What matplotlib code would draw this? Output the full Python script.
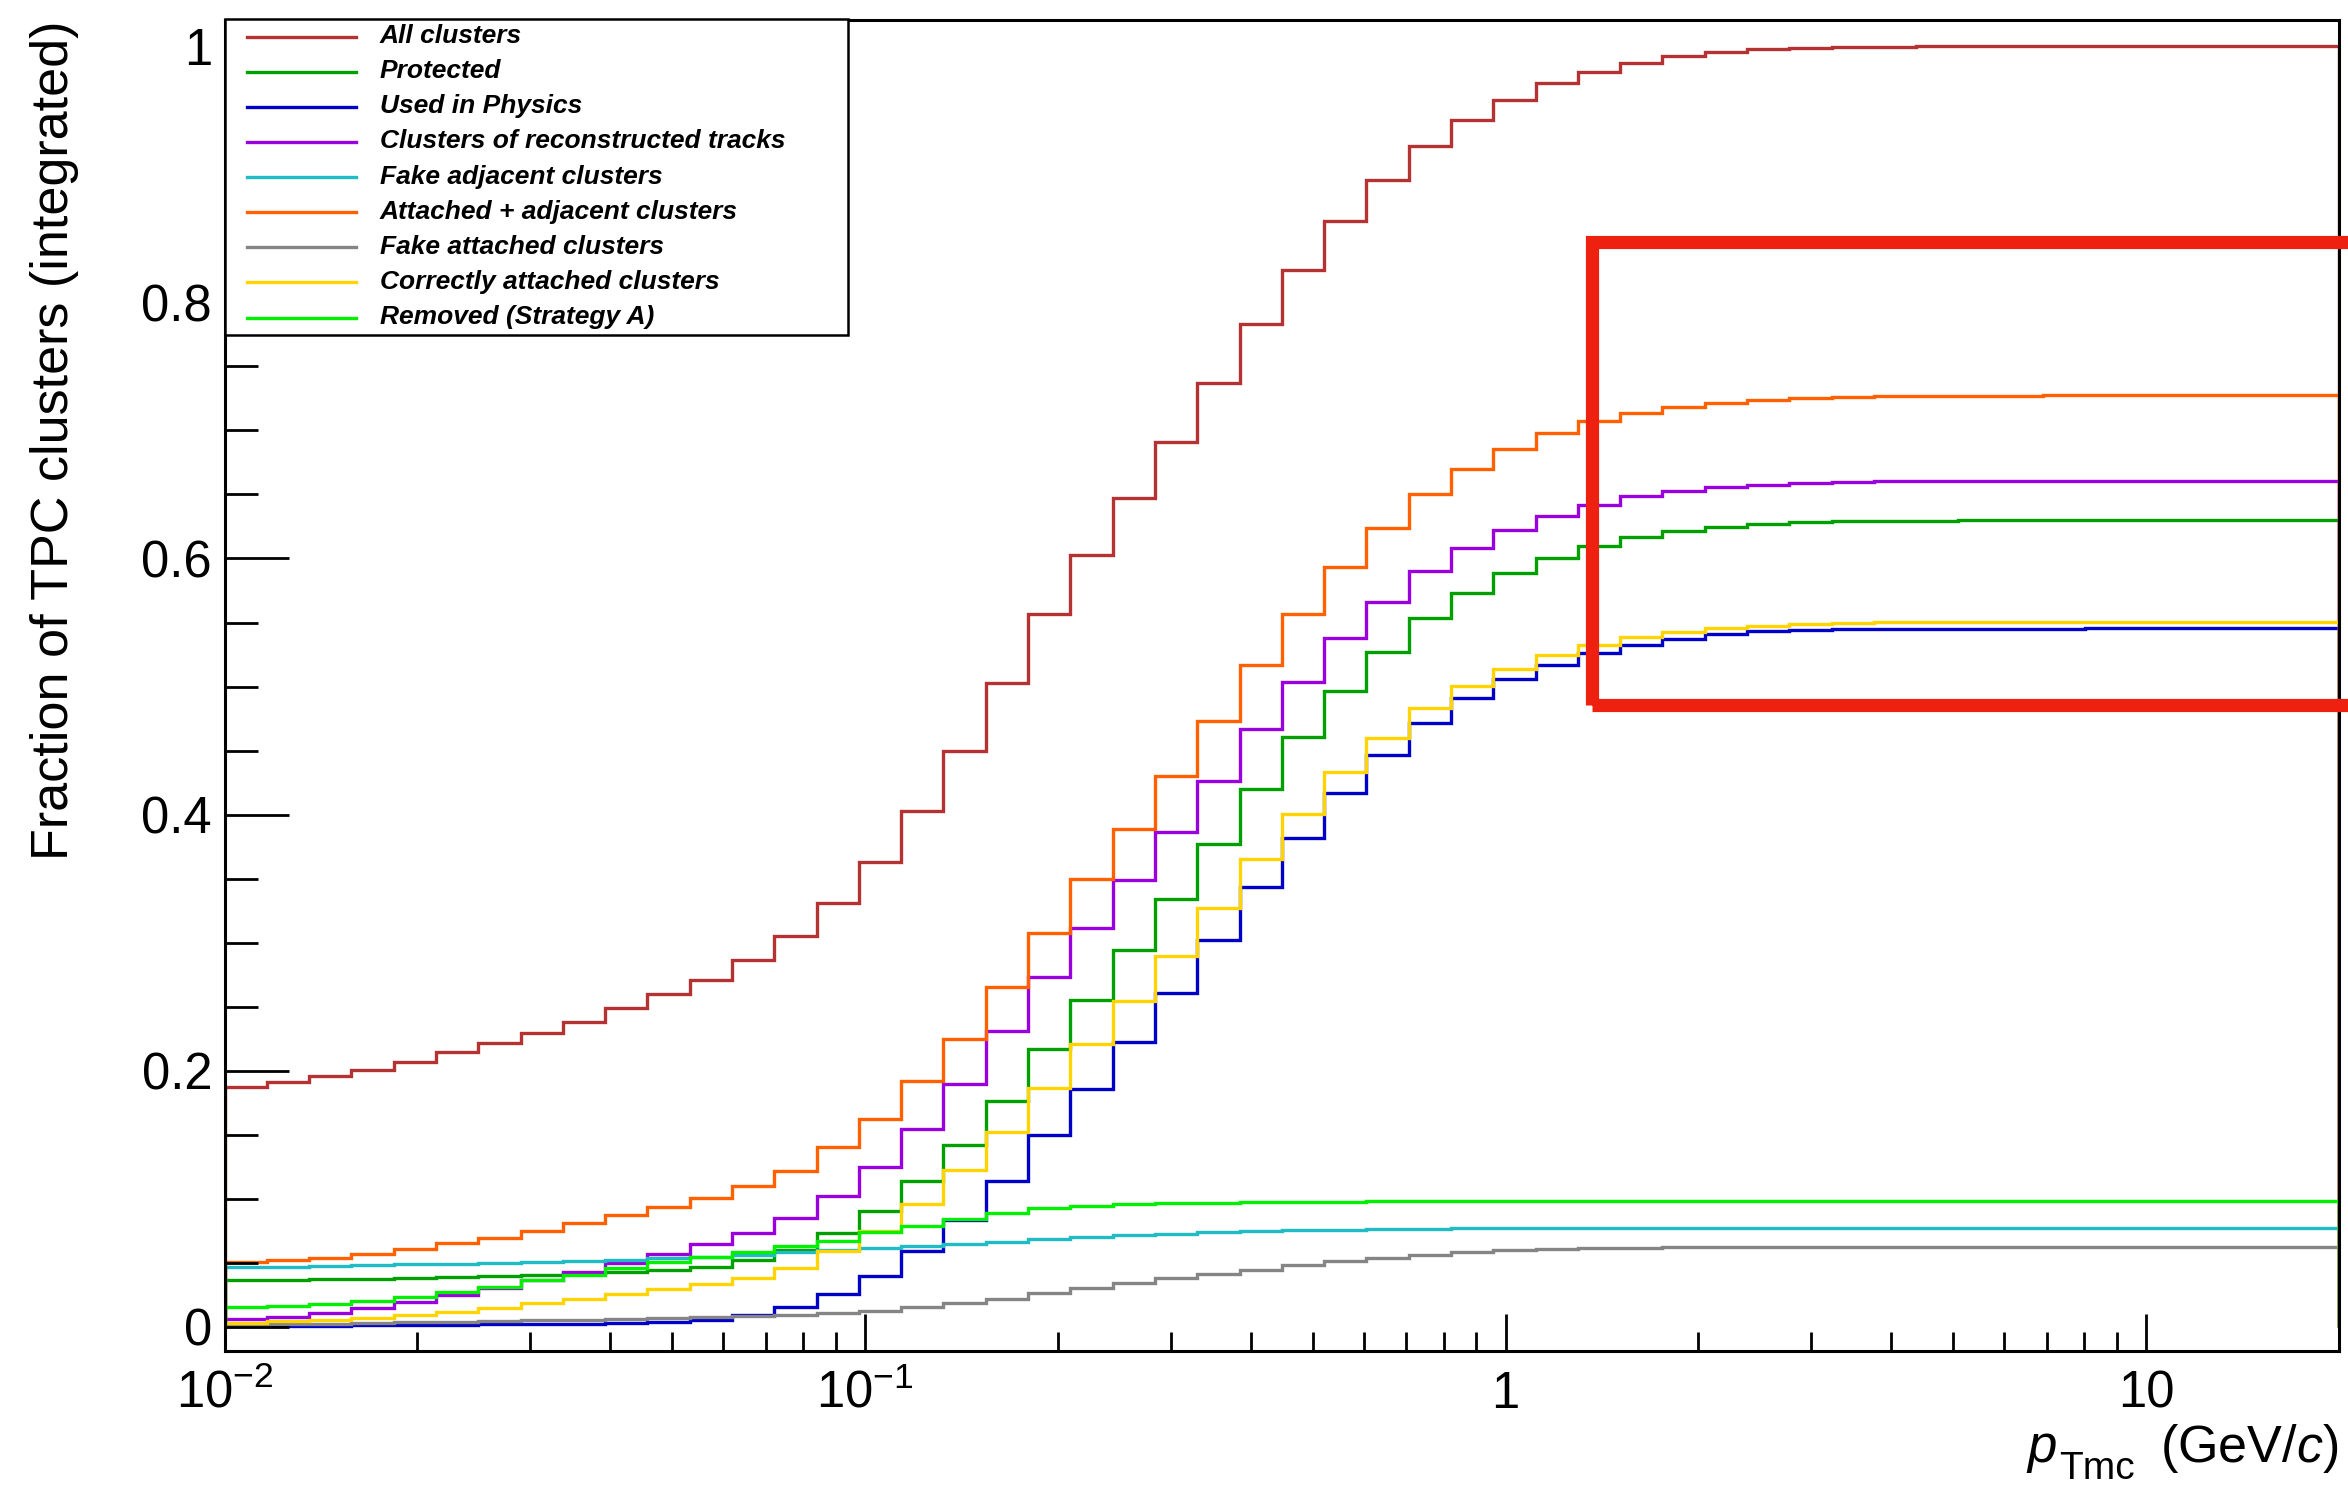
import numpy as np
import matplotlib
matplotlib.use('Agg')
import matplotlib.pyplot as plt
from matplotlib.patches import Rectangle
from matplotlib.lines import Line2D

plt.rcParams['font.family'] = ['Liberation Sans', 'DejaVu Sans']
plt.rcParams['mathtext.fontset'] = 'custom'
plt.rcParams['mathtext.rm'] = 'Liberation Sans'
plt.rcParams['mathtext.it'] = 'Liberation Sans:italic'
plt.rcParams['mathtext.bf'] = 'Liberation Sans:bold'

# 50 log bins from 0.01 to 20 GeV/c (cumulative fractions)
bin_edges = np.logspace(-2, np.log10(20.0), 51)

all_clusters = [0.187, 0.191, 0.196, 0.2005, 0.207, 0.2143, 0.2218, 0.2296, 0.2382, 0.2489,
                0.2596, 0.271, 0.2862, 0.3052, 0.3312, 0.3627, 0.403, 0.450, 0.503, 0.557,
                0.603, 0.647, 0.691, 0.7373, 0.7832, 0.8254, 0.8636, 0.8954, 0.9222, 0.9425,
                0.9581, 0.9712, 0.9802, 0.9873, 0.9927, 0.9954, 0.9977, 0.999, 0.9995, 0.9998,
                1.0, 1.0, 1.0, 1.0, 1.0, 1.0, 1.0, 1.0, 1.0, 1.0]
protected = [0.0365, 0.0368, 0.037, 0.0375, 0.038, 0.0386, 0.0393, 0.0401, 0.0417, 0.0425,
             0.044, 0.0469, 0.0523, 0.0599, 0.0733, 0.090, 0.114, 0.1418, 0.176, 0.2168,
             0.2554, 0.2939, 0.3342, 0.377, 0.4202, 0.4602, 0.4968, 0.5271, 0.5533, 0.5731,
             0.5885, 0.6004, 0.6101, 0.6167, 0.6214, 0.6246, 0.627, 0.6283, 0.629, 0.6294,
             0.6296, 0.6297, 0.6298, 0.6298, 0.6299, 0.6299, 0.63, 0.63, 0.63, 0.63]
used_physics = [0.0005, 0.0006, 0.0008, 0.001, 0.0012, 0.0016, 0.0018, 0.0021, 0.0024, 0.0029,
                0.0037, 0.0052, 0.0089, 0.0154, 0.0254, 0.0395, 0.0591, 0.0836, 0.1136, 0.150,
                0.186, 0.222, 0.261, 0.302, 0.3433, 0.3818, 0.4166, 0.4462, 0.4717, 0.4909,
                0.5055, 0.517, 0.5264, 0.5324, 0.5373, 0.541, 0.5431, 0.5444, 0.545, 0.5452,
                0.5452, 0.5453, 0.5453, 0.5453, 0.5454, 0.5454, 0.5454, 0.5454, 0.5454, 0.5454]
reco_tracks = [0.0058, 0.0078, 0.011, 0.0149, 0.0193, 0.0248, 0.0302, 0.0362, 0.0427, 0.050,
               0.0568, 0.0643, 0.0729, 0.0846, 0.1024, 0.125, 0.1547, 0.1898, 0.2306, 0.273,
               0.3115, 0.3488, 0.386, 0.4263, 0.4665, 0.5038, 0.5376, 0.5662, 0.590, 0.6084,
               0.6224, 0.6335, 0.6416, 0.6486, 0.6526, 0.6556, 0.6577, 0.659, 0.6598, 0.6603,
               0.6604, 0.6605, 0.6605, 0.6606, 0.6606, 0.6606, 0.6606, 0.6606, 0.6606, 0.6606]
fake_adjacent = [0.0464, 0.0469, 0.0474, 0.048, 0.0486, 0.0492, 0.0498, 0.0505, 0.0513, 0.0523,
                 0.0534, 0.0547, 0.0562, 0.058, 0.0599, 0.0617, 0.0628, 0.0647, 0.0664, 0.0686,
                 0.0703, 0.0716, 0.0727, 0.0737, 0.0745, 0.0753, 0.0758, 0.0763, 0.0766, 0.0768,
                 0.0771, 0.0772, 0.0773, 0.0773, 0.0773, 0.0773, 0.0773, 0.0773, 0.0773, 0.0773,
                 0.0773, 0.0773, 0.0773, 0.0773, 0.0773, 0.0773, 0.0773, 0.0773, 0.0773, 0.0773]
attached_adjacent = [0.0505, 0.052, 0.054, 0.0566, 0.0604, 0.065, 0.0696, 0.075, 0.0807, 0.0872,
                     0.0937, 0.1008, 0.1096, 0.1218, 0.140, 0.162, 0.1915, 0.2245, 0.265, 0.3077,
                     0.3497, 0.3887, 0.430, 0.473, 0.5167, 0.5568, 0.5934, 0.624, 0.650, 0.670,
                     0.6858, 0.698, 0.7071, 0.714, 0.7185, 0.7217, 0.7241, 0.7256, 0.7264, 0.727,
                     0.7272, 0.7273, 0.7273, 0.7274, 0.7274, 0.7274, 0.7274, 0.7274, 0.7274, 0.7274]
fake_attached = [0.0016, 0.0018, 0.0024, 0.0029, 0.0034, 0.0039, 0.0044, 0.005, 0.0055, 0.0063,
                 0.0068, 0.0076, 0.0083, 0.0091, 0.0105, 0.0124, 0.0155, 0.0185, 0.0219, 0.0262,
                 0.030, 0.0339, 0.0377, 0.0412, 0.0446, 0.0479, 0.0513, 0.0537, 0.0562, 0.0581,
                 0.0597, 0.0607, 0.0612, 0.0617, 0.062, 0.0622, 0.0624, 0.0625, 0.0625, 0.0625,
                 0.0625, 0.0625, 0.0625, 0.0625, 0.0625, 0.0625, 0.0625, 0.0625, 0.0625, 0.0625]
correct_attached = [0.0032, 0.0042, 0.0052, 0.007, 0.0091, 0.0117, 0.0149, 0.0183, 0.0219, 0.0253,
                    0.0292, 0.0331, 0.0383, 0.0461, 0.0588, 0.0746, 0.096, 0.1222, 0.1517, 0.1868,
                    0.2211, 0.2545, 0.2897, 0.327, 0.3654, 0.4002, 0.433, 0.4595, 0.4829, 0.5003,
                    0.5136, 0.5243, 0.5328, 0.5385, 0.5429, 0.5457, 0.5475, 0.5489, 0.5496, 0.5502,
                    0.5503, 0.5504, 0.5504, 0.5505, 0.5505, 0.5505, 0.5505, 0.5505, 0.5505, 0.5505]
removed_a = [0.0151, 0.0162, 0.0177, 0.0203, 0.0232, 0.0274, 0.0313, 0.0365, 0.0406, 0.0456,
             0.0505, 0.0547, 0.0586, 0.0628, 0.0673, 0.0737, 0.0789, 0.084, 0.0891, 0.0926,
             0.0943, 0.0955, 0.0963, 0.0967, 0.097, 0.0974, 0.0977, 0.0979, 0.0981, 0.0981,
             0.0981, 0.0982, 0.0982, 0.0982, 0.0982, 0.0982, 0.0982, 0.0982, 0.0982, 0.0982,
             0.0982, 0.0982, 0.0982, 0.0982, 0.0982, 0.0982, 0.0982, 0.0982, 0.0982, 0.0982]

series = [all_clusters, protected, used_physics, reco_tracks, fake_adjacent,
          attached_adjacent, fake_attached, correct_attached, removed_a]
names = ['All clusters', 'Protected', 'Used in Physics', 'Clusters of reconstructed tracks',
         'Fake adjacent clusters', 'Attached + adjacent clusters', 'Fake attached clusters',
         'Correctly attached clusters', 'Removed (Strategy A)']
colors = ['#b43232', '#00a000', '#0000c8', '#9900dd', '#1fbcc4',
          '#ff6000', '#858585', '#ffd400', '#00f000']

W, H = 2348, 1488
fig = plt.figure(figsize=(W / 100, H / 100), dpi=100)

def fx(x):
    return x / W

def fy(y):
    return 1 - y / H

ax = fig.add_axes([fx(224.6), fy(1351), fx(2339) - fx(224.6), fy(20) - fy(1351)])

for vals, col in zip(series, colors):
    ax.stairs(vals, bin_edges, baseline=0, color=col, lw=2.4)

ax.set_xscale('log')
ax.set_xlim(0.01, 20)
ax.set_ylim(-0.019, 1.0206)

ax.set_xticks([0.01, 0.1, 1, 10], labels=[r'10$^{-2}$', r'10$^{-1}$', '1', '10'])
ax.xaxis.set_minor_locator(matplotlib.ticker.LogLocator(base=10, subs=np.arange(2, 10)))
ax.xaxis.set_minor_formatter(matplotlib.ticker.NullFormatter())
ax.set_yticks([0, 0.2, 0.4, 0.6, 0.8, 1.0], labels=['0', '0.2', '0.4', '0.6', '0.8', '1'])
ax.yaxis.set_minor_locator(matplotlib.ticker.MultipleLocator(0.05))

ax.tick_params(axis='both', which='both', direction='in', top=False, right=False, width=2)
ax.tick_params(axis='y', which='major', length=46, labelsize=36.5, pad=9)
ax.tick_params(axis='y', which='minor', length=24)
ax.tick_params(axis='x', which='major', length=27, labelsize=36.5, pad=41)
ax.tick_params(axis='x', which='minor', length=14)
for t in ax.xaxis.get_major_ticks():
    t.label1.set_va('baseline')
for s in ax.spines.values():
    s.set_linewidth(2.2)

# axis titles (ROOT style, aligned to the axis ends)
fig.text(fx(2027), fy(1462), 'p', ha='left', va='baseline', fontsize=38, fontstyle='italic')
fig.text(fx(2059), fy(1479), 'Tmc', ha='left', va='baseline', fontsize=28)
fig.text(fx(2338), fy(1462), r'(GeV/$c$)', ha='right', va='baseline', fontsize=37.5)
fig.text(fx(55), fy(20), 'Fraction of TPC clusters (integrated)', rotation=90,
         ha='center', va='top', fontsize=37.5)

# legend box
fig.patches.append(Rectangle((fx(224.6), fy(335)), fx(848) - fx(224.6), fy(19.3) - fy(335),
                             transform=fig.transFigure, facecolor='white', edgecolor='black',
                             lw=1.8, zorder=5))
for i, (name, col) in enumerate(zip(names, colors)):
    ly = 36.7 + 35.1 * i
    fig.lines.append(Line2D([fx(247), fx(356)], [fy(ly), fy(ly)], transform=fig.transFigure,
                            color=col, lw=2.4, zorder=6))
    fig.text(fx(379.5), fy(ly + 6.5), name, ha='left', va='baseline', fontsize=19,
             fontweight='bold', fontstyle='italic', zorder=6)

# highlight box
fig.patches.append(Rectangle((fx(1592), fy(705)), fx(2500) - fx(1592), fy(241.7) - fy(705),
                             transform=fig.transFigure, facecolor='none', edgecolor='#ee2010',
                             lw=9.5, zorder=7, clip_on=False))

fig.savefig('out.png', dpi=100)
